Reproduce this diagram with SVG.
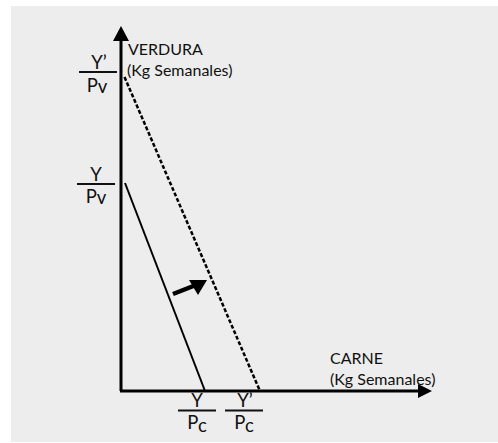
<svg xmlns="http://www.w3.org/2000/svg" width="498" height="443" viewBox="0 0 498 443">
  <style>
    .lbl { font-family: Lato, "Open Sans", "Liberation Sans", sans-serif; fill: #111; }
    .ax { font-size: 16px; }
    .fr { font-size: 18.5px; text-anchor: middle; }
    .frl { stroke: #111; stroke-width: 2; }
    .axis { stroke: #000; stroke-width: 3; fill: none; }
  </style>
  <rect x="11" y="6" width="487" height="436" fill="#ededed"/>

  <g id="connectors">
    <path class="axis" d="M121,391 V40"/>
    <polygon points="121,26 129,41 113,41" fill="#000"/>
    <path class="axis" d="M120,391 H418"/>
    <polygon points="432,391 418,384 418,398" fill="#000"/>
    <line id="budget" x1="125" y1="183" x2="205" y2="391" stroke="#000" stroke-width="2"/>
    <line id="budget2" x1="124.5" y1="77" x2="260" y2="391" stroke="#000" stroke-width="2.5" stroke-dasharray="4,2"/>
    <line id="shift" x1="173" y1="294" x2="196" y2="285" stroke="#000" stroke-width="4.5"/>
    <polygon points="207,280 189,280 198,295" fill="#000"/>
  </g>

  <g id="yaxis-label">
    <text class="lbl ax" x="128" y="55">VERDURA</text>
    <text class="lbl ax" x="127" y="76">(Kg Semanales)</text>
  </g>
  <g id="xaxis-label">
    <text class="lbl ax" x="330" y="364">CARNE</text>
    <text class="lbl ax" x="330" y="385">(Kg Semanales)</text>
  </g>

  <g id="yp-pv">
    <text class="lbl fr" x="99" y="69">Y’</text>
    <line class="frl" x1="79" y1="72" x2="117" y2="72"/>
    <text class="lbl fr" x="97" y="92">P<tspan dy="1">v</tspan></text>
  </g>
  <g id="y-pv">
    <text class="lbl fr" x="96" y="181">Y</text>
    <line class="frl" x1="77" y1="184" x2="115" y2="184"/>
    <text class="lbl fr" x="96" y="203">P<tspan dy="1">v</tspan></text>
  </g>
  <g id="y-pc">
    <text class="lbl fr" x="197" y="407">Y</text>
    <line class="frl" x1="178" y1="410.5" x2="216" y2="410.5"/>
    <text class="lbl fr" x="197" y="429">P<tspan dy="3">c</tspan></text>
  </g>
  <g id="yp-pc">
    <text class="lbl fr" x="245" y="407">Y’</text>
    <line class="frl" x1="225" y1="410.5" x2="263" y2="410.5"/>
    <text class="lbl fr" x="244" y="429">P<tspan dy="3">c</tspan></text>
  </g>
</svg>
